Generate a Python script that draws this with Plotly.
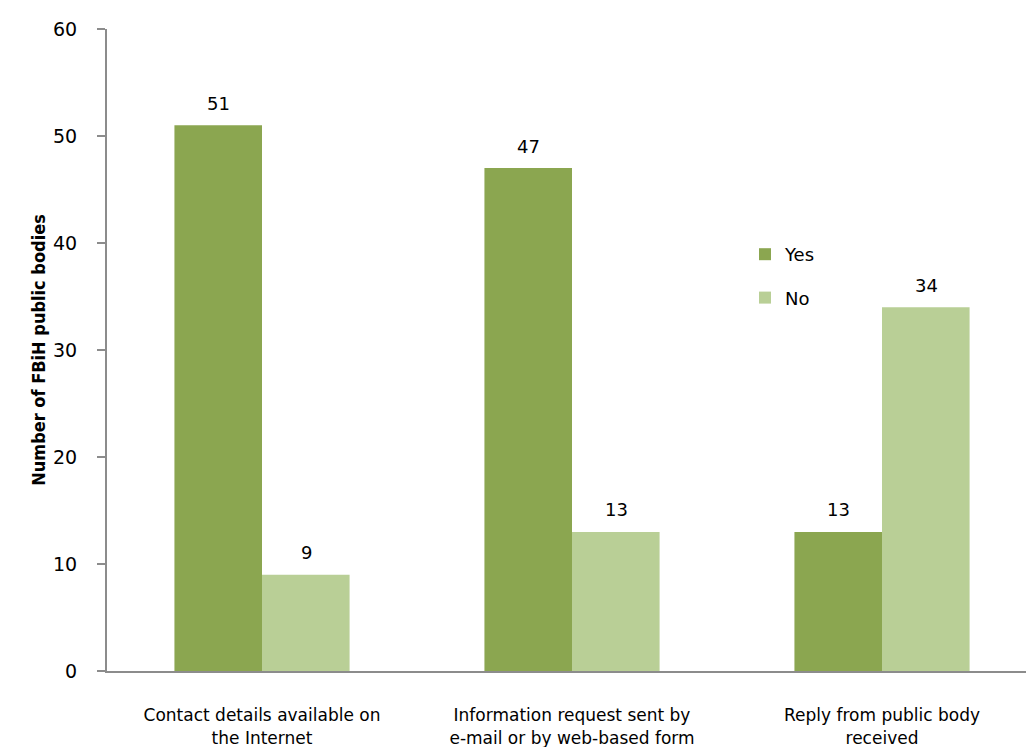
import plotly.graph_objects as go

categories = ["Contact details available on<br>the Internet",
              "Information request sent by<br>e-mail or by web-based form",
              "Reply from public body<br>received"]
yes_values = [51, 47, 13]
no_values = [9, 13, 34]
y_ticks = [0, 10, 20, 30, 40, 50, 60]

YES_COLOR = "#8BA650"
NO_COLOR = "#B9CF96"
FONT = "DejaVu Sans, Verdana, sans-serif"

x_idx = list(range(len(categories)))

fig = go.Figure()
fig.add_trace(go.Bar(x=x_idx, y=yes_values, name="Yes", marker_color=YES_COLOR,
                     marker_line_width=0, legendgroup="yes"))
fig.add_trace(go.Bar(x=x_idx, y=no_values, name="No", marker_color=NO_COLOR,
                     marker_line_width=0, legendgroup="no"))

annotations = []
for i in x_idx:
    for val, shift in ((yes_values[i], -44), (no_values[i], 44)):
        annotations.append(dict(x=i, y=val, xref="x", yref="y", text=str(val),
                                showarrow=False, xshift=shift, yshift=22,
                                font=dict(family=FONT, size=18, color="#000000")))

fig.update_layout(
    width=1026, height=747,
    margin=dict(l=107, r=0, t=29, b=76),
    paper_bgcolor="white", plot_bgcolor="white",
    barmode="group", bargap=0.435, bargroupgap=0,
    showlegend=True,
    legend=dict(x=(745 - 107) / 919, y=1 - (236 - 29) / 642, xanchor="left", yanchor="top",
                font=dict(family=FONT, size=18, color="#000000"),
                tracegroupgap=17, bgcolor="rgba(0,0,0,0)"),
    annotations=annotations,
    xaxis=dict(range=[-0.5, 2.5 - 11 / 310], tickmode="array", tickvals=x_idx,
               ticktext=categories, showgrid=False, zeroline=False,
               showline=True, linecolor="#8c8c8c", linewidth=2, ticks="",
               tickfont=dict(family=FONT, size=17, color="#000000"),
               ticklabelstandoff=28, automargin=False),
    yaxis=dict(range=[0, 60], tickmode="array", tickvals=y_ticks,
               showgrid=False, zeroline=False, showline=True,
               linecolor="#8c8c8c", linewidth=2, ticks="outside",
               ticklen=8, tickcolor="#8c8c8c", tickwidth=2,
               tickfont=dict(family=FONT, size=19, color="#000000"),
               ticklabelstandoff=16, automargin=False,
               title=dict(text="<b>Number of FBiH public bodies</b>",
                          font=dict(family="Liberation Sans Narrow, Arial Narrow, DejaVu Sans Condensed, sans-serif",
                                    size=18, color="#000000"),
                          standoff=3)),
)

fig.write_html("out.html")
